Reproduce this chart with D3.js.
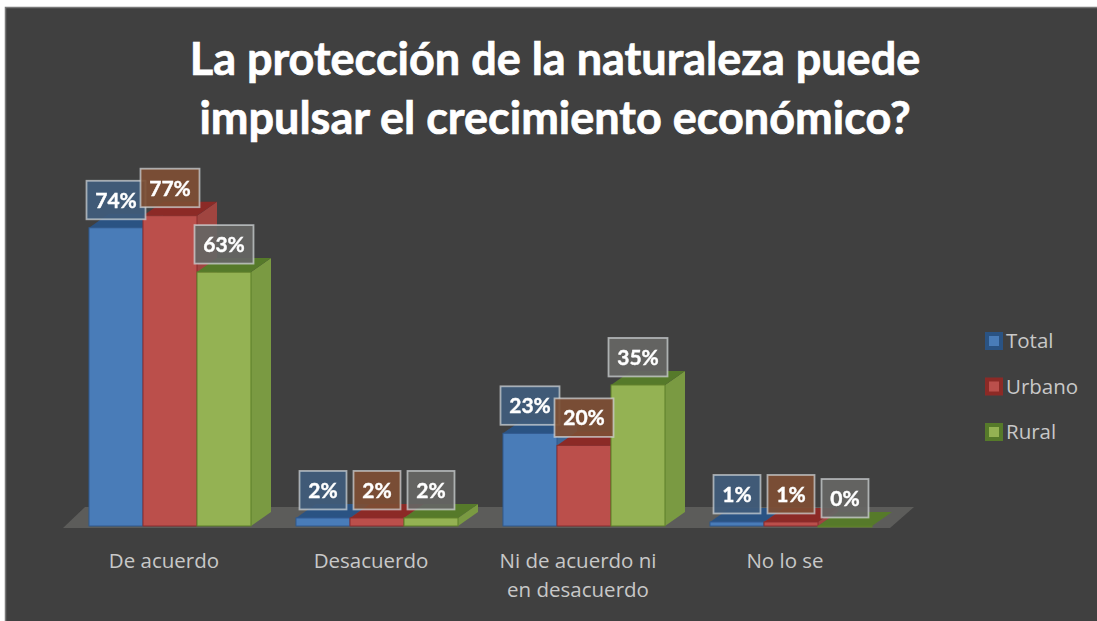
<!DOCTYPE html>
<html><head><meta charset="utf-8">
<script src="https://cdn.jsdelivr.net/npm/d3@7/dist/d3.min.js"></script>
<style>html,body{margin:0;padding:0;background:#fff;overflow:hidden}svg{display:block}</style>
</head><body><svg id="c" width="1097" height="621"></svg>
<script>
const categories = ["De acuerdo","Desacuerdo","Ni de acuerdo ni|en desacuerdo","No lo se"];
const seriesNames = ["Total","Urbano","Rural"];
const total = [74,2,23,1];
const urbano = [77,2,20,1];
const rural = [63,2,35,0];
const titleLines = ["La protección de la naturaleza puede","impulsar el crecimiento económico?"];

const svgEl = d3.select("#c");
const series = [total,urbano,rural];
const front = ["#4a7cb8","#bb4f4c","#94b253"];
const frontEdge = ["#2f5a90","#8a2f2c","#5d7f2a"];
const side  = ["#3e6797","#a04441","#7a9a42"];
const top_  = ["#2c5283","#8c2a28","#577a2a"];
const labelFill = ["#3f5c7c","#7e4f34","#666664"];

svgEl.append("rect").attr("x",5.5).attr("y",7.5).attr("width",1100).attr("height",620).attr("fill","#404040").attr("stroke","#787878").attr("stroke-width",1.5);

const defs = svgEl.append("defs");
const f = defs.append("filter").attr("id","soft").attr("x","-5%").attr("y","-5%").attr("width","110%").attr("height","110%");
f.append("feGaussianBlur").attr("stdDeviation",0.7);
const f2 = defs.append("filter").attr("id","softer").attr("x","-5%").attr("y","-5%").attr("width","110%").attr("height","110%");
f2.append("feGaussianBlur").attr("stdDeviation",0.35);

const x0 = d3.scaleBand().domain(d3.range(4)).range([89,872]).paddingInner(0.2174).paddingOuter(0);
const x1 = d3.scaleBand().domain(d3.range(3)).range([0,x0.bandwidth()]);
const y = d3.scaleLinear().domain([0,100]).range([526,123]);
const dx = 20, dy = 14;

// floor
svgEl.append("polygon").attr("fill","#5c5c5a").attr("filter","url(#soft)")
 .attr("points",[[63,528],[85,507],[914,507],[890,528]].join(" "));

const chart = svgEl.append("g").attr("filter","url(#soft)");
categories.forEach((c,i)=>{
  series.forEach((s,k)=>{
    const v = s[i], xl = x0(i)+x1(k), w = x1.bandwidth(), yt = y(v), yb = y(0);
    const g = chart.append("g");
    g.append("polygon").attr("fill",side[k]).attr("points",[[xl+w,yt],[xl+w+dx,yt-dy],[xl+w+dx,yb-dy],[xl+w,yb]].join(" "));
    g.append("polygon").attr("fill",top_[k]).attr("points",[[xl,yt],[xl+dx,yt-dy],[xl+w+dx,yt-dy],[xl+w,yt]].join(" "));
    g.append("rect").attr("x",xl).attr("y",yt).attr("width",w).attr("height",Math.max(yb-yt,1)).attr("fill",front[k])
      .attr("stroke",frontEdge[k]).attr("stroke-width",1);
  });
});

// data labels
const labels = svgEl.append("g").attr("filter","url(#softer)");
categories.forEach((c,i)=>{
  series.forEach((s,k)=>{
    const v = s[i], cx = x0(i)+x1(k)+x1.bandwidth()/2, yt = y(v);
    const txt = v+"%", bw = v>=10?59:47, bh = 38.5, by = yt-8.5-bh;
    const g = labels.append("g");
    g.append("rect").attr("x",cx-bw/2).attr("y",by).attr("width",bw).attr("height",bh)
      .attr("fill",labelFill[k]).attr("fill-opacity",0.92).attr("stroke","#d4d8dc").attr("stroke-opacity",.7).attr("stroke-width",1.8);
    g.append("text").attr("x",cx).attr("y",by+27).attr("text-anchor","middle")
      .attr("font-family","Lato").attr("font-weight",700).attr("font-size",21).attr("fill","#fff")
      .attr("stroke","#fff").attr("stroke-width",0.4).text(txt);
  });
});

// axis labels
categories.forEach((c,i)=>{
  c.split("|").forEach((l,j)=>{
    svgEl.append("text").attr("x",x0(i)+x0.bandwidth()/2-6).attr("y",568+j*29).attr("text-anchor","middle")
     .attr("font-family","Open Sans").attr("font-size",20.5).attr("fill","#c8c8c8").text(l);
  });
});

// title
titleLines.forEach((l,j)=>{
  svgEl.append("text").attr("x",555).attr("y",75+j*59).attr("text-anchor","middle")
   .attr("font-family","Lato").attr("font-weight",700).attr("font-size",45).attr("fill","#fff")
   .attr("stroke","#fff").attr("stroke-width",0.7).text(l);
});

// legend
seriesNames.forEach((n,k)=>{
  const ly = 341+k*45.5;
  svgEl.append("rect").attr("x",985).attr("y",ly-9).attr("width",18).attr("height",18).attr("fill",top_[k]).attr("filter","url(#soft)");
  svgEl.append("rect").attr("x",989).attr("y",ly-5).attr("width",10).attr("height",10).attr("fill",front[k]).attr("filter","url(#soft)");
  svgEl.append("text").attr("x",1006).attr("y",ly+7).attr("font-family","Open Sans").attr("font-size",20.5).attr("fill","#c8c8c8").text(n);
});
</script></body></html>
